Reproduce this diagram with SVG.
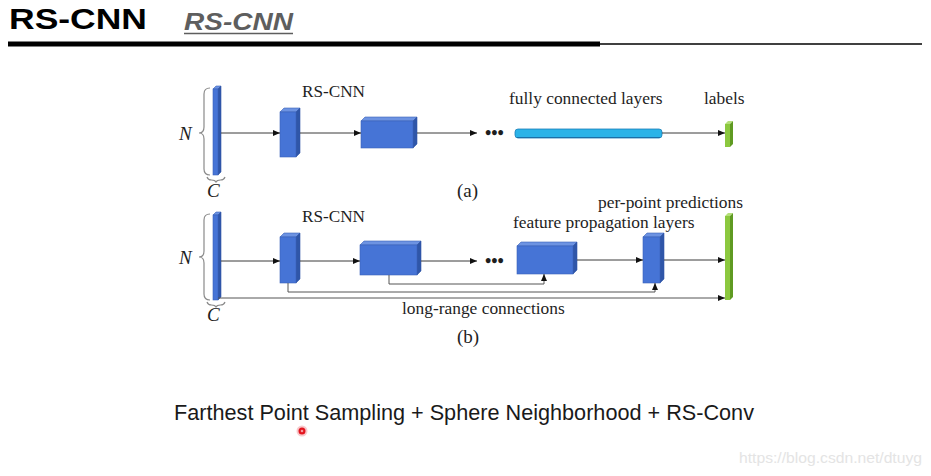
<svg xmlns="http://www.w3.org/2000/svg" width="931" height="476" viewBox="0 0 931 476">
<style>
.ser{font-family:"Liberation Serif","Times New Roman",serif;fill:#1e1e1e;}
.it{font-style:italic;}
.front{fill:#4674d6;stroke:#3a62b8;stroke-width:0.6;}
.top{fill:#6d93e2;stroke:#3a62b8;stroke-width:0.6;}
.side{fill:#2f56a8;stroke:#2f56a8;stroke-width:0.6;}
.gfront{fill:#8cc83f;}
.gtop{fill:#b5e07a;}
.gside{fill:#5f9a22;}
.ln{fill:none;stroke:#3a3a3a;stroke-width:1;}
.lr{fill:none;stroke:#555;stroke-width:1;}
.brace{fill:none;stroke:#8a8a8a;stroke-width:1.2;}
.lbl{font-size:17.4px;}
</style>
<defs>
<marker id="ah" markerWidth="7" markerHeight="6" refX="7" refY="3" orient="auto" markerUnits="userSpaceOnUse">
<path d="M0,0 L7,3 L0,6 z" fill="#111"/>
</marker>
</defs>
<rect width="931" height="476" fill="#ffffff"/>

<g id="header">
<text x="9" y="29" font-family="Liberation Sans, Arial, sans-serif" font-weight="bold" font-size="29" fill="#000" textLength="138" lengthAdjust="spacingAndGlyphs">RS-CNN</text>
<text x="184" y="30" font-family="Liberation Sans, Arial, sans-serif" font-weight="bold" font-style="italic" font-size="23.5" fill="#5e5e5e" textLength="109" lengthAdjust="spacingAndGlyphs">RS-CNN</text>
<line x1="184" y1="33.5" x2="293" y2="33.5" stroke="#5e5e5e" stroke-width="1.5"/>
<rect x="8" y="41.5" width="592" height="5" fill="#000"/>
<line x1="600" y1="44" x2="922" y2="44" stroke="#000" stroke-width="1.5"/>
</g>

<!-- ===== Diagram (a) ===== -->
<g id="a-input">
<path class="brace" d="M210,88 Q204,88 204,94 L204,127 Q204,133 199,133 Q204,133 204,139 L204,169 Q204,175 210,175"/>
<polygon class="top" points="213,89 216,86 221,86 218,89"/>
<polygon class="side" points="218,89 221,86 221,172 218,175"/>
<rect class="front" x="213" y="89" width="5" height="86"/>
<text class="ser it" x="179" y="140" font-size="19">N</text>
<path class="brace" d="M207,177 Q208,180 211.5,180 Q215,180 216,182 Q217,180 220.5,180 Q224,180 225,177"/>
<text class="ser it" x="207" y="197" font-size="19">C</text>
</g>

<g id="a-block1">
<polygon class="top" points="280,112 284,108 300,108 296,112"/>
<polygon class="side" points="296,112 300,108 300,153 296,157"/>
<rect class="front" x="280" y="112" width="16" height="45"/>
</g>
<g id="a-block2">
<polygon class="top" points="361,121 365,117 417,117 413,121"/>
<polygon class="side" points="413,121 417,117 417,144 413,148"/>
<rect class="front" x="361" y="121" width="52" height="27"/>
</g>
<g id="a-rscnn-label"><text class="ser" x="302" y="97" font-size="17.2">RS-CNN</text></g>
<g id="a-dots"><text class="ser" x="485" y="139" font-size="18" font-weight="bold">•••</text></g>
<g id="a-fc">
<rect x="515" y="129" width="147" height="9" rx="3" fill="#2ab3e8" stroke="#1d7fb8" stroke-width="0.8"/>
<line x1="517" y1="137.5" x2="660" y2="137.5" stroke="#1a6fa8" stroke-width="1"/>
<text class="ser lbl" x="509" y="104">fully connected layers</text>
</g>
<g id="a-labels">
<polygon class="gtop" points="725,124 728,121 733,121 730,124"/>
<polygon class="gside" points="730,124 733,121 733,144 730,147"/>
<rect class="gfront" x="725" y="124" width="5" height="23"/>
<text class="ser lbl" x="704" y="104">labels</text>
</g>
<g id="a-caption"><text class="ser" x="457" y="197" font-size="19">(a)</text></g>

<!-- ===== Diagram (b) ===== -->
<g id="b-input">
<path class="brace" d="M210,214 Q204,214 204,220 L204,251 Q204,257 199,257 Q204,257 204,263 L204,294 Q204,300 210,300"/>
<polygon class="top" points="213,215 216,212 221,212 218,215"/>
<polygon class="side" points="218,215 221,212 221,297 218,300"/>
<rect class="front" x="213" y="215" width="5" height="85"/>
<text class="ser it" x="179" y="264" font-size="19">N</text>
<path class="brace" d="M207,302 Q208,305 211.5,305 Q215,305 216,307 Q217,305 220.5,305 Q224,305 225,302"/>
<text class="ser it" x="207" y="321" font-size="19">C</text>
</g>
<g id="b-block1">
<polygon class="top" points="280,237 284,233 300,233 296,237"/>
<polygon class="side" points="296,237 300,233 300,279 296,283"/>
<rect class="front" x="280" y="237" width="16" height="46"/>
</g>
<g id="b-block2">
<polygon class="top" points="360,245 364,241 421,241 417,245"/>
<polygon class="side" points="417,245 421,241 421,271 417,275"/>
<rect class="front" x="360" y="245" width="57" height="30"/>
</g>
<g id="b-rscnn-label"><text class="ser" x="302" y="222" font-size="17.2">RS-CNN</text></g>
<g id="b-dots"><text class="ser" x="485" y="267" font-size="18" font-weight="bold">•••</text></g>
<g id="b-block3">
<polygon class="top" points="517,246 521,242 577,242 573,246"/>
<polygon class="side" points="573,246 577,242 577,270 573,274"/>
<rect class="front" x="517" y="246" width="56" height="28"/>
<text class="ser lbl" x="513" y="228">feature propagation layers</text>
</g>
<g id="b-block4">
<polygon class="top" points="643,237 647,233 664,233 660,237"/>
<polygon class="side" points="660,237 664,233 664,279 660,283"/>
<rect class="front" x="643" y="237" width="17" height="46"/>
</g>
<g id="b-predictions">
<polygon class="gtop" points="725,216 728,213 733,213 730,216"/>
<polygon class="gside" points="730,216 733,213 733,297 730,300"/>
<rect class="gfront" x="725" y="216" width="5" height="84"/>
<text class="ser lbl" x="598" y="208">per-point predictions</text>
</g>
<g id="b-longrange-label"><text class="ser lbl" x="402" y="314">long-range connections</text></g>
<g id="b-caption"><text class="ser" x="457" y="343" font-size="19">(b)</text></g>

<g id="connectors">
<line class="ln" x1="221" y1="133" x2="280" y2="133" marker-end="url(#ah)"/>
<line class="ln" x1="300" y1="133" x2="361" y2="133" marker-end="url(#ah)"/>
<line class="ln" x1="417" y1="133" x2="477" y2="133" marker-end="url(#ah)"/>
<line class="ln" x1="662" y1="133" x2="725" y2="133" marker-end="url(#ah)"/>

<line class="ln" x1="221" y1="261" x2="280" y2="261" marker-end="url(#ah)"/>
<line class="ln" x1="300" y1="261" x2="360" y2="261" marker-end="url(#ah)"/>
<line class="ln" x1="421" y1="261" x2="477" y2="261" marker-end="url(#ah)"/>
<line class="ln" x1="577" y1="260" x2="643" y2="260" marker-end="url(#ah)"/>
<line class="ln" x1="664" y1="260" x2="725" y2="260" marker-end="url(#ah)"/>

<path class="lr" d="M389,275 V284 H544 V274" marker-end="url(#ah)"/>
<path class="lr" d="M288,283 V292 H655 V283" marker-end="url(#ah)"/>
<path class="lr" d="M218,298 H725" marker-end="url(#ah)"/>
</g>

<g id="footer">
<text x="174" y="420" font-family="Liberation Sans, Arial, sans-serif" font-size="21.5" fill="#1a1a1a" textLength="580" lengthAdjust="spacingAndGlyphs">Farthest Point Sampling + Sphere Neighborhood + RS-Conv</text>
<circle cx="302" cy="431" r="5.5" fill="#f7c9cc"/>
<circle cx="302" cy="431" r="3.5" fill="#e3141e"/>
<circle cx="302" cy="431" r="1.3" fill="#f49aa0"/>
<text x="739" y="463" font-family="Liberation Sans, Arial, sans-serif" font-size="15.5" fill="#e4e4e4" textLength="183" lengthAdjust="spacingAndGlyphs">https://blog.csdn.net/dtuyg</text>
</g>
</svg>
